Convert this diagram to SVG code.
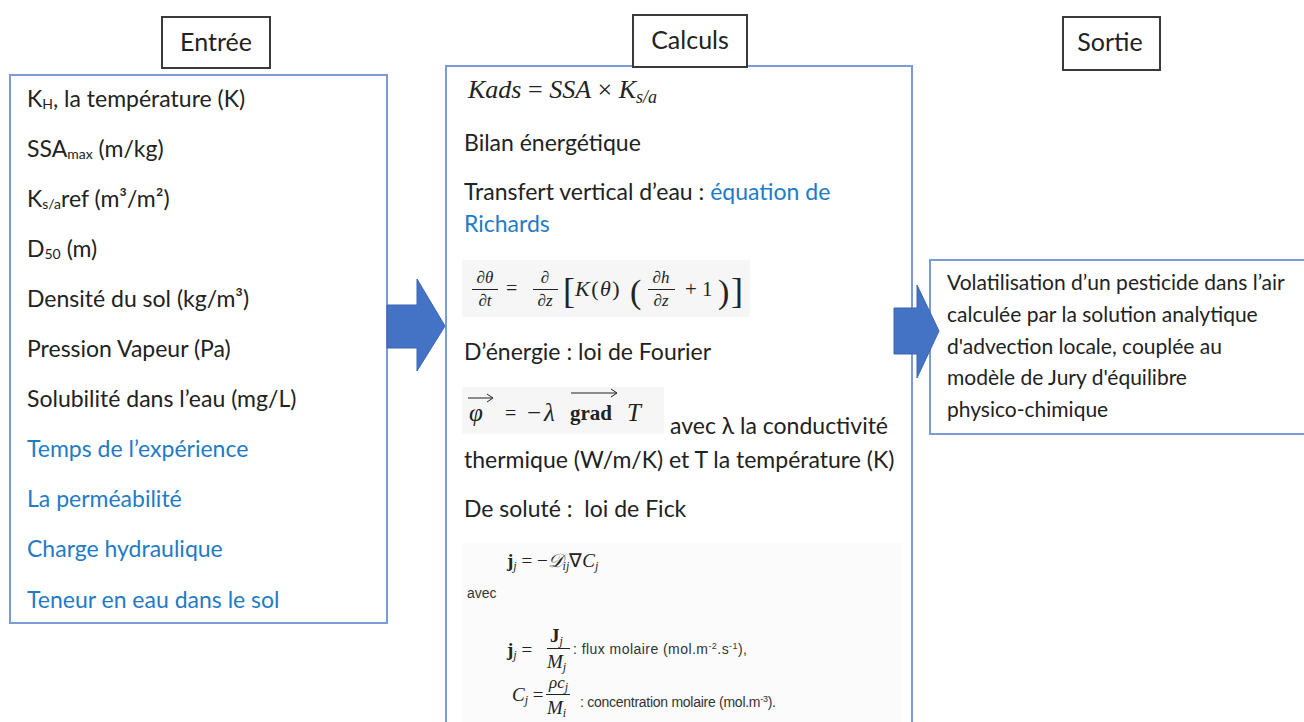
<svg xmlns="http://www.w3.org/2000/svg" width="1304" height="722" viewBox="0 0 1304 722">
<style>
.t{font-family:Lato,"Open Sans",sans-serif;font-size:23px;fill:#222}
.r{font-family:Lato,"Open Sans",sans-serif;font-size:21px;fill:#222}
.b{fill:#1F7BC6}
.lbl{font-family:Lato,"Open Sans",sans-serif;font-size:25px;fill:#222;text-anchor:middle}
.lbox{fill:#fff;stroke:#3a3a3a;stroke-width:2}
.bbox{fill:#fff;stroke:#7B9AD8;stroke-width:2}
.m{font-family:"Liberation Serif",serif;fill:#222}
.mi{font-style:italic}
.bg{fill:#f6f6f6}
.sm{font-family:"Liberation Sans",Arial,sans-serif;font-size:14px;fill:#333}
.arr{fill:#4472C4;stroke:#3A65B5;stroke-width:1}
.bar{stroke:#222;stroke-width:1}
</style>

<g id="entree">
<rect class="bbox" x="10" y="75" width="377" height="548"/>
<rect class="lbox" x="162" y="17" width="108" height="51"/>
<text class="lbl" x="216" y="51">Entrée</text>
<text class="t" x="27" y="107">K<tspan font-size="14" dy="2">H</tspan><tspan dy="-2">, la température (K)</tspan></text>
<text class="t" x="27" y="157">SSA<tspan font-size="14" dy="2">max</tspan><tspan dy="-2"> (m/kg)</tspan></text>
<text class="t" x="27" y="207">K<tspan font-size="14" dy="2">s/a</tspan><tspan dy="-2">ref (m³/m²)</tspan></text>
<text class="t" x="27" y="257">D<tspan font-size="14" dy="2">50</tspan><tspan dy="-2"> (m)</tspan></text>
<text class="t" x="27" y="307">Densité du sol (kg/m³)</text>
<text class="t" x="27" y="357">Pression Vapeur (Pa)</text>
<text class="t" x="27" y="407">Solubilité dans l’eau (mg/L)</text>
<text class="t b" x="27" y="457">Temps de l’expérience</text>
<text class="t b" x="27" y="507">La perméabilité</text>
<text class="t b" x="27" y="557">Charge hydraulique</text>
<text class="t b" x="27" y="608">Teneur en eau dans le sol</text>
</g>

<g id="calculs">
<rect class="bbox" x="446" y="66" width="466" height="670"/>
<rect class="lbox" x="633" y="15" width="114" height="52"/>
<text class="lbl" x="690" y="49">Calculs</text>
<text class="m" x="468" y="98" font-size="26"><tspan class="mi">Kads</tspan> = <tspan class="mi">SSA</tspan> × <tspan class="mi">K</tspan><tspan class="mi" font-size="18" dy="5">s/a</tspan></text>
<text class="t" x="464" y="151">Bilan énergétique</text>
<text class="t" x="464" y="200">Transfert vertical d’eau : <tspan class="b">équation de</tspan></text>
<text class="t b" x="464" y="232">Richards</text>
<g id="richards">
<rect class="bg" x="462" y="260" width="288" height="57"/>
<g class="m" font-size="17" text-anchor="middle">
<text class="mi" x="485" y="283">∂θ</text>
<text class="mi" x="485" y="306">∂t</text>
<text x="545" y="283">∂</text>
<text class="mi" x="545" y="306">∂z</text>
<text class="mi" x="661" y="283">∂h</text>
<text class="mi" x="661" y="306">∂z</text>
</g>
<line class="bar" x1="472" y1="289.5" x2="498" y2="289.5"/>
<line class="bar" x1="533" y1="289.5" x2="558" y2="289.5"/>
<line class="bar" x1="648" y1="289.5" x2="675" y2="289.5"/>
<text class="m" x="506" y="295" font-size="20">=</text>
<text class="m" x="563" y="303" font-size="36">[</text>
<text class="m" x="575" y="296" font-size="22" letter-spacing="1.5"><tspan class="mi">K</tspan>(<tspan class="mi">θ</tspan>)</text>
<text class="m" x="630" y="303" font-size="34">(</text>
<text class="m" x="685" y="296" font-size="21">+ 1</text>
<text class="m" x="718" y="303" font-size="34">)</text>
<text class="m" x="731" y="303" font-size="36">]</text>
</g>
<text class="t" x="464" y="360">D’énergie : loi de Fourier</text>
<g id="fourier">
<rect class="bg" x="462" y="387" width="202" height="47"/>
<text class="m mi" x="469" y="421" font-size="25">φ</text>
<line class="bar" x1="468" y1="398" x2="492" y2="398"/>
<path d="M487,394 L493,398 L487,402" fill="none" stroke="#222" stroke-width="1"/>
<text class="m" x="505" y="420" font-size="20">=</text>
<text class="m" x="527" y="421" font-size="25">−<tspan class="mi" dx="3">λ</tspan></text>
<text class="m" x="570" y="420" font-size="21" font-weight="bold">grad</text>
<line class="bar" x1="571" y1="393" x2="616" y2="393"/>
<path d="M611,389 L617,393 L611,397" fill="none" stroke="#222" stroke-width="1"/>
<text class="m mi" x="627" y="421" font-size="25">T</text>
</g>
<text class="t" x="670" y="434">avec λ la conductivité</text>
<text class="t" x="464" y="468">thermique (W/m/K) et T la température (K)</text>
<text class="t" x="464" y="517">De soluté :&#160; loi de Fick</text>
<g id="fick">
<rect x="462" y="543" width="440" height="185" fill="#fbfbfb"/>
<text class="m" x="507" y="567" font-size="19"><tspan font-weight="bold">j</tspan><tspan class="mi" font-size="12" dy="3">j</tspan><tspan dy="-3"> = −</tspan><tspan class="mi">𝒟</tspan><tspan class="mi" font-size="12" dy="3">ij</tspan><tspan dy="-3">∇</tspan><tspan class="mi">C</tspan><tspan class="mi" font-size="12" dy="3">j</tspan></text>
<text class="sm" x="467" y="598" font-size="11">avec</text>
<text class="m" x="507" y="656" font-size="19"><tspan font-weight="bold">j</tspan><tspan class="mi" font-size="12" dy="3">j</tspan><tspan dy="-3"> =</tspan></text>
<text class="m" x="550" y="642" font-size="19"><tspan font-weight="bold">J</tspan><tspan class="mi" font-size="12" dy="3">j</tspan></text>
<line class="bar" x1="547" y1="648.5" x2="570" y2="648.5"/>
<text class="m mi" x="547" y="668" font-size="19">M<tspan font-size="12" dy="3">j</tspan></text>
<text class="sm" x="573" y="654" textLength="174">:  flux molaire (mol.m<tspan font-size="9" dy="-5">-2</tspan><tspan dy="5">.s</tspan><tspan font-size="9" dy="-5">-1</tspan><tspan dy="5">),</tspan></text>
<text class="m" x="512" y="701" font-size="19"><tspan class="mi">C</tspan><tspan class="mi" font-size="12" dy="3">j</tspan><tspan dy="-3"> =</tspan></text>
<text class="m mi" x="549" y="688" font-size="17">ρc<tspan font-size="12" dy="3">j</tspan></text>
<line class="bar" x1="546" y1="694.5" x2="570" y2="694.5"/>
<text class="m mi" x="547" y="714" font-size="19">M<tspan font-size="12" dy="3">i</tspan></text>
<text class="sm" x="580" y="707" textLength="196">: concentration molaire (mol.m<tspan font-size="9" dy="-5">-3</tspan><tspan dy="5">).</tspan></text>
</g>
</g>

<g id="sortie">
<rect class="bbox" x="930" y="260" width="390" height="174"/>
<rect class="lbox" x="1063" y="17" width="97" height="53"/>
<text class="lbl" x="1110" y="51">Sortie</text>
<text class="r" x="947" y="290">Volatilisation d’un pesticide dans l’air</text>
<text class="r" x="947" y="322">calculée par la solution analytique</text>
<text class="r" x="947" y="354">d'advection locale, couplée au</text>
<text class="r" x="947" y="385">modèle de Jury d'équilibre</text>
<text class="r" x="947" y="417">physico-chimique</text>
</g>

<g id="connectors">
<path class="arr" d="M387,305 L417,305 L417,279 L445,326 L417,371 L417,348 L387,348 Z"/>
<path class="arr" d="M894,308 L917,308 L917,285 L939,331 L917,378 L917,354 L894,354 Z"/>
</g>
</svg>
